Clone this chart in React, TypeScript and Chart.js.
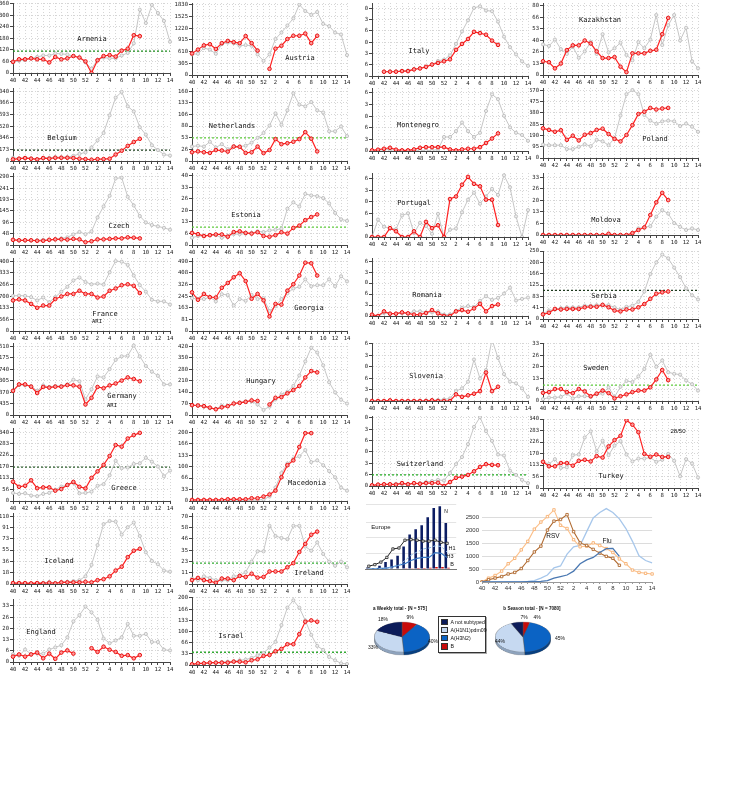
import React, { useEffect, useRef } from 'react';
import { Chart, registerables } from 'chart.js';
Chart.register(...registerables);

// ---------- categories ----------
const weeks = ['40','41','42','43','44','45','46','47','48','49','50','51','52','1','2','3','4','5','6','7','8','9','10','11','12','13','14'];
const europeWeeks = ['48','49','50','51','52','1','2','3','4','5','6','7','8','9','10'];

// ---------- country series (cur = current season to wk 9, prev = previous season) ----------
const armeniaCur = [58,71,71,76,71,71,55,83,71,76,88,80,60,0,66,88,93,85,116,126,196,191];
const armeniaPrev = [55,63,68,76,83,91,91,101,99,96,88,80,55,22,68,80,76,76,91,104,154,328,259,353,311,270,162];
const armeniaThreshold = 113;
const austriaCur = [560,660,770,800,677,828,886,853,828,1012,828,635,null,160,685,760,936,1020,1020,1078,828,1020];
const austriaPrev = [535,552,702,660,552,803,844,828,760,777,760,535,368,535,936,1103,1287,1471,1830,1663,1563,1638,1329,1270,1103,1053,518];
const belgiumCur = [24,34,43,34,24,43,34,48,48,48,43,34,29,19,29,29,34,96,153,225,283,330];
const belgiumPrev = [48,38,48,38,29,48,48,57,57,57,77,105,129,201,307,417,680,944,1030,814,738,503,393,235,163,96,81];
const belgiumThreshold = 163;
const netherlandsCur = [20,22,20,18.5,25,24,21.5,33,32.5,18.5,20,33,18,25,50,38.5,40.7,44,50,66,51,22];
const netherlandsPrev = [33,35,33,44,31,38.5,27,34,33,35,42,53,64,81,109,83,116,155,129,125,135,116,111,68,68,79,57];
const netherlandsThreshold = 53;
const czechCur = [22,20,20,20,18,18,22,24,24,23,26,24,12,16,24,24,26,28,28,32.5,31,28];
const czechPrev = [23,20,20,20,20,22,22,24,28,32.5,45,55.5,46,58,117,164,209,283,286,205,168,123,96,85,79,73,65];
const estoniaCur = [7,6.3,5.2,5.7,6.1,6.1,4.8,7.5,7.9,7,6.6,7.4,5.2,4.8,5.7,7.4,6.6,9.9,11.2,14.4,16.2,17.7];
const estoniaPrev = [4.2,5.2,5.2,5.7,5.7,4.2,5.2,6.3,6.3,6.6,7,7.9,7.5,8.5,8.8,9.4,21,24.7,22.3,29.6,28.7,28.3,27.2,24.1,18.6,14.9,14];
const estoniaThreshold = 10.3;
const franceCur = [1490,1540,1490,1320,1130,1240,1240,1555,1680,1805,1805,1960,1805,1805,1630,1680,1960,2070,2230,2275,2200,1850];
const francePrev = [1710,1725,1710,1650,1490,1630,1400,1650,1915,2150,2465,2605,2385,2275,2310,2260,2860,3405,3375,3220,2700,2230,1915,1520,1445,1445,1290];
const georgiaCur = [271,219,260,237,235,303,337,377,405,350,226,260,215,102,190,185,283,328,389,479,475,389];
const georgiaPrev = [230,224,224,237,208,258,253,179,224,212,253,224,230,140,174,224,264,298,310,362,314,321,321,362,314,384,348];
const germanyCur = [918,1160,1160,1075,833,1063,1039,1075,1075,1135,1123,1075,399,652,1063,1015,1123,1196,1305,1425,1365,1280];
const germanyPrev = [894,1135,1123,1099,918,1123,1063,1099,1099,1160,1340,1280,592,978,1462,1425,1740,2090,2223,2247,2633,2223,1860,1643,1486,1160,1160];
const hungaryCur = [60,58,54,45,35,47,54,70,74,80,89,86,null,64,105,109,132,152,177,229,268,260];
const hungaryPrev = [60,56,51,41,37,56,54,70,76,84,84,64,31,51,95,124,142,177,241,327,410,381,303,200,138,93,70];
const greeceCur = [95,70,75,102,63,67,67,51,59,79,94,70,62,114,146,178,222,276,268,308,325,336];
const greecePrev = [40,35,38,27,24,35,40,56,71,79,90,38,40,46,75,83,127,198,162,165,183,186,213,194,170,122,150];
const greeceThreshold = 167;
const macedoniaCur = [3,3,3,3,3,3,5,5,5,5,8,8,13,19,30,69,104,118,157,197,197];
const macedoniaPrev = [1,1,1,1,1,1,2,2,2,2,2,3,4,13,39,81,109,123,130,148,113,118,104,87,69,39,30];
const icelandCur = [1.5,1.5,1.5,1,1.5,1,2,1,2.6,2.6,2.6,2.6,3.6,2.6,6.2,7.8,12.4,21.8,28,43.5,53.9,57];
const icelandPrev = [1.5,1,1,1,1.5,2,3,2,3,3.6,4.7,6.2,12.4,31,63,97,102,101,80,92,99.5,77.7,51.3,37.3,32,21.8,20];
const irelandCur = [4,6.3,4,3,1.3,5.6,5.6,4,8.3,7.3,10.6,6.6,7.3,12.9,12.9,12.9,17.2,21.5,33,41.3,50.8,54];
const irelandPrev = [5.6,4,7.9,6.3,4,4,4,7.9,8.9,12.2,23.1,33.7,33.7,60,49.5,47.5,46.2,60,60,38.6,34.3,42.9,31,23.1,18.8,23.1,17.2];
const irelandThreshold = 21.5;
const englandCur = [3.2,4.5,3.2,4.5,5.6,2.2,5,1.9,5.6,6.9,5,null,null,8.2,6,9.1,7.3,6,3.7,4.1,2.2,4.1];
const englandPrev = [4.7,3.7,7.4,4.7,5,5,7.4,8.7,10,14.7,24.2,27.9,33,29.6,25.1,14,11.2,12.8,14.7,22.7,15.6,15.6,16.7,11.9,11.9,7.3,6.9];
const israelCur = [2,5,5,7,7,7,7,10,10,8,14,17,27,30,41,48,62,62,92,129,133,129];
const israelPrev = [2,3,4,5,7,9,10,11,14,16,21,29,36,52,69,119,171,193,171,133,90,57,45,24,14,5,3];
const israelThreshold = 38;
const italyCur = [null,null,63,63,63,72,72,97,111,135,169,193,217,246,386,473,546,652,633,609,522,459];
const italyPrev = [null,null,63,68,68,77,82,101,116,135,169,222,242,304,473,657,821,1005,1029,966,956,802,580,425,319,217,150];
const kazakhstanCur = [15.9,14.8,7.7,13.3,28.8,34.3,34.3,39.9,36.5,27.3,19.6,19.6,20.7,9.6,3.3,25.1,25.1,25.1,28,29.2,47.2,66];
const kazakhstanPrev = [35.4,33.6,41,29.9,24.4,32.8,19.9,27.3,38,24.4,47.2,26.2,31,37.3,23.2,17,38,31,41,69.4,34.7,57.6,69.4,39.9,54.6,15.9,7.7];
const montenegroCur = [0.7,1.5,2.6,3.7,1.5,0.7,0.7,1.8,3.7,4.4,4.4,4.4,4.4,1.8,0.7,1.8,2.6,2.6,4.4,9.2,14.3,20.2];
const montenegroPrev = [0.7,0.7,1.5,1.5,0.7,0.7,0,0.7,0.7,0.7,0.7,1.5,16.1,16.1,22.8,32.7,22.8,16.1,20.9,45.9,65,59.5,40.4,27.2,20.9,18.4,11.7];
const polandCur = [250,237,221,234,153,188,148,196,210,237,247,202,161,140,194,277,371,390,422,409,417,422];
const polandPrev = [113,108,108,108,75,75,94,116,100,153,140,108,167,358,538,573,538,363,315,288,309,315,309,269,290,264,221];
const portugalCur = [0,0,0,10.1,6.5,0,0,6.5,0,17.3,10.1,13.4,0,43.3,46.2,59.6,68.6,60.6,57.8,42.6,42.6,13.7];
const portugalPrev = [0,19.9,11.6,10.1,9,24.5,27.1,4.3,16.2,12.6,3.6,26.4,0,8.3,9.7,28.2,42.6,50.5,37.9,46.2,54.9,48,70.4,56.7,23.5,0,30.7];
const moldovaCur = [0,0,0,0,0,0,0,0,0,0,0,0.7,0,0,0,1.1,2.9,4.4,11.6,18.9,24.4,20.2];
const moldovaPrev = [0,0,0,0,0,0,0,0,0,0,0,0,0,0,0,0.7,3.8,4.4,5.1,10.6,14.4,12.4,6.9,4.7,2.9,3.8,2.9];
const romaniaCur = [0.4,0,1.4,0.7,0.7,1.1,0.8,0.4,0.4,0.9,1.8,0.8,0,0,1.4,1.8,1.3,2.3,3.7,1.4,3,3.5];
const romaniaPrev = [0.4,0,0.9,0.7,0.7,0.8,0.8,1.4,1.4,1.1,1.1,1.4,0.4,0.5,1.6,2.5,3,2.7,4.6,6,4.9,5.5,6.8,8.6,4.7,5.2,5.6];
const serbiaCur = [17,23,37,35,37,37,37,43,45,45,52,43,31,28,35,35,43,55,74,93,98,101];
const serbiaPrev = [20,31,35,40,43,43,43,49,49,51,51,51,43,34,45,49,63,101,165,208,237,223,189,154,113,87,72];
const serbiaThreshold = 105;
const sloveniaCur = [0,0,0,1.3,0,0,0,0,0,0,1.3,0,0,0,13.5,8.4,11.6,14.8,20,58,20,29];
const sloveniaPrev = [0,0,0,0,0,0,0,0,0.5,1,1.9,1.9,3.2,5.2,20,25.8,39.3,84.4,45.7,63,125,87.6,54.7,39.3,36,25.8,8.4];
const swedenCur = [4.8,5.2,7,7,5.2,4.6,7,5.6,2.8,4.3,6.1,4.6,1.5,2.8,3.9,5.2,6.1,6.1,8,12.6,18.1,12.2];
const swedenPrev = [1.1,2,2,2.4,4.3,1.5,2.8,2.8,2.4,3.9,4.3,8,2.4,8.3,11.7,11.1,14.4,18.7,27,20,23.7,16.8,15.9,15.4,12,9.8,6.1];
const swedenThreshold = 9.25;
const switzerlandCur = [4,8,10,10,8,17,10,17,13,17,17,19,0,23,48,55,65,86,112,128,124,122];
const switzerlandPrev = [4,4,10,10,13,10,13,13,17,23,29,36,32,76,128,170,246,347,404,322,265,185,179,90,65,36,17];
const switzerlandThreshold = 65;
const turkeyCur = [129,107,107,123,123,110,134,139,131,157,150,205,236,257,334,312,275,168,154,165,153,153];
const turkeyPrev = [129,118,142,99,102,161,165,249,279,181,233,162,209,231,165,131,145,145,150,129,139,168,134,58,142,121,52];

// ---------- Europe summary ----------
const europeCount = [5,2,10,22,30,42,72,110,127,140,165,195,200,147];
const europeB = [0,0,0,0,0,0,1,2,3,3,4,6,6,4];
const europeTotal = [9,14,22,37,64,67,92,94,92,89,89,92,85,82];
const europeH1 = [0,1,2,4,7,12,27,44,54,64,67,74,72,54];
const europeH3 = [0,1,2,3,7,12,17,27,34,37,37,52,50,37];

// ---------- RSV / Flu ----------
const rsvPrev = [0,150,250,420,705,915,1240,1570,2040,2315,2525,2785,2190,2065,1635,1360,1385,1510,1410,1290,1140,890,705,460,370,335,310];
const rsvCur = [0,90,150,210,310,370,520,830,1160,1385,2005,2350,2415,2600,1945,1510,1410,1260,1115,990,915,645];
const fluPrev = [0,5,5,5,10,10,15,20,50,150,270,545,620,1075,1360,1410,1945,2475,2685,2835,2685,2440,2065,1570,1015,830,740];
const fluCur = [0,0,0,0,0,5,5,10,10,25,50,150,210,270,420,705,855,950,1140,1285,1300,990];
const rsvTicks = [0,500,1000,1500,2000,2500];

// ---------- pies (B, A(H3N2), A(H1N1)pdm09, A not subtyped) ----------
const pieLabels = ['B','A(H3N2)','A(H1N1)pdm09','A not subtyped'];
const weeklyPie = [9,40,33,18];
const seasonPie = [4,45,44,7];
const legendItems = ['A not subtyped','A(H1N1)pdm09','A(H3N2)','B'];

// ---------- styles / layout ----------
const MONO = '"DejaVu Sans Mono", monospace';
const SANS = '"Liberation Sans", Arial, sans-serif';
const TICK = 5.6;
const pieColors = ['#c80b0b','#0b63c4','#c6d9f1','#0c1c5a'];
const pieDark = ['#7a0606','#073f80','#8ea3bd','#060e30'];
const legendColors = ['#0c1c5a','#c6d9f1','#0b63c4','#c80b0b'];

const COLS: Record<string, { cl: number; ax: number; pr: number }> = {
  LL: { cl: 0, ax: 13, pr: 170 },
  LR: { cl: 175, ax: 192, pr: 347 },
  RL: { cl: 365, ax: 372, pr: 528 },
  RR: { cl: 530, ax: 543, pr: 698 },
};

type Panel = {
  title: string; cur: (number | null)[]; prev: (number | null)[]; thr?: number; thrColor?: string;
  col: string; plotTop: number; zero: number; yTop: number; yMax: number; tx: number; ty: number; sub?: string; sx?: number; sy?: number;
};

const LIGHT = '#5fcc3c';
const panels: Panel[] = [
  { title: 'Armenia', cur: armeniaCur, prev: armeniaPrev, thr: armeniaThreshold, thrColor: '#1a8a1a', col: 'LL', plotTop: 0, zero: 73, yTop: 360, yMax: 363, tx: 92, ty: 39 },
  { title: 'Austria', cur: austriaCur, prev: austriaPrev, col: 'LR', plotTop: 0, zero: 75, yTop: 1830, yMax: 1872, tx: 300, ty: 58 },
  { title: 'Belgium', cur: belgiumCur, prev: belgiumPrev, thr: belgiumThreshold, thrColor: '#1c3f1c', col: 'LL', plotTop: 85, zero: 161, yTop: 1040, yMax: 1087, tx: 62, ty: 138 },
  { title: 'Netherlands', cur: netherlandsCur, prev: netherlandsPrev, thr: netherlandsThreshold, thrColor: LIGHT, col: 'LR', plotTop: 85, zero: 161, yTop: 160, yMax: 167, tx: 232, ty: 126 },
  { title: 'Czech', cur: czechCur, prev: czechPrev, col: 'LL', plotTop: 170, zero: 245, yTop: 290, yMax: 306, tx: 119, ty: 226 },
  { title: 'Estonia', cur: estoniaCur, prev: estoniaPrev, thr: estoniaThreshold, thrColor: LIGHT, col: 'LR', plotTop: 170, zero: 245, yTop: 40, yMax: 41.7, tx: 246, ty: 215 },
  { title: 'France', cur: franceCur, prev: francePrev, col: 'LL', plotTop: 255, zero: 331, yTop: 3400, yMax: 3555, tx: 105, ty: 314, sub: 'ARI', sx: 97, sy: 322 },
  { title: 'Georgia', cur: georgiaCur, prev: georgiaPrev, col: 'LR', plotTop: 255, zero: 331, yTop: 490, yMax: 512, tx: 309, ty: 308 },
  { title: 'Germany', cur: germanyCur, prev: germanyPrev, col: 'LL', plotTop: 340, zero: 415, yTop: 2610, yMax: 2730, tx: 122, ty: 396, sub: 'ARI', sx: 112, sy: 406 },
  { title: 'Hungary', cur: hungaryCur, prev: hungaryPrev, col: 'LR', plotTop: 340, zero: 415, yTop: 420, yMax: 439, tx: 261, ty: 381 },
  { title: 'Greece', cur: greeceCur, prev: greecePrev, thr: greeceThreshold, thrColor: '#2d5f2d', col: 'LL', plotTop: 425, zero: 501, yTop: 340, yMax: 360, tx: 124, ty: 488 },
  { title: 'Macedonia', cur: macedoniaCur, prev: macedoniaPrev, col: 'LR', plotTop: 425, zero: 501, yTop: 200, yMax: 212, tx: 307, ty: 483 },
  { title: 'Iceland', cur: icelandCur, prev: icelandPrev, col: 'LL', plotTop: 510, zero: 584, yTop: 110, yMax: 115, tx: 59, ty: 561 },
  { title: 'Ireland', cur: irelandCur, prev: irelandPrev, thr: irelandThreshold, thrColor: '#33aa33', col: 'LR', plotTop: 510, zero: 584, yTop: 70, yMax: 73.2, tx: 309, ty: 573 },
  { title: 'England', cur: englandCur, prev: englandPrev, col: 'LL', plotTop: 596, zero: 662, yTop: 40, yMax: 37.5, tx: 41, ty: 632 },
  { title: 'Israel', cur: israelCur, prev: israelPrev, thr: israelThreshold, thrColor: '#33aa33', col: 'LR', plotTop: 594, zero: 665, yTop: 200, yMax: 202.8, tx: 231, ty: 636 },
  { title: 'Italy', cur: italyCur, prev: italyPrev, col: 'RL', plotTop: 0, zero: 76, yTop: 1000, yMax: 1077, tx: 419, ty: 51 },
  { title: 'Kazakhstan', cur: kazakhstanCur, prev: kazakhstanPrev, col: 'RR', plotTop: 0, zero: 75, yTop: 80, yMax: 83.3, tx: 600, ty: 20 },
  { title: 'Montenegro', cur: montenegroCur, prev: montenegroPrev, col: 'RL', plotTop: 85, zero: 151, yTop: 80, yMax: 72.3, tx: 418, ty: 125 },
  { title: 'Poland', cur: polandCur, prev: polandPrev, col: 'RR', plotTop: 85, zero: 158, yTop: 570, yMax: 590, tx: 655, ty: 139 },
  { title: 'Portugal', cur: portugalCur, prev: portugalPrev, col: 'RL', plotTop: 170, zero: 237, yTop: 80, yMax: 73, tx: 414, ty: 203 },
  { title: 'Moldova', cur: moldovaCur, prev: moldovaPrev, col: 'RR', plotTop: 170, zero: 235, yTop: 40, yMax: 35.9, tx: 606, ty: 220 },
  { title: 'Romania', cur: romaniaCur, prev: romaniaPrev, col: 'RL', plotTop: 255, zero: 316, yTop: 20, yMax: 17.6, tx: 427, ty: 295 },
  { title: 'Serbia', cur: serbiaCur, prev: serbiaPrev, thr: serbiaThreshold, thrColor: '#1e3a1e', col: 'RR', plotTop: 248, zero: 319, yTop: 250, yMax: 250, tx: 604, ty: 296 },
  { title: 'Slovenia', cur: sloveniaCur, prev: sloveniaPrev, col: 'RL', plotTop: 340, zero: 401, yTop: 140, yMax: 118, tx: 426, ty: 376 },
  { title: 'Sweden', cur: swedenCur, prev: swedenPrev, thr: swedenThreshold, thrColor: LIGHT, col: 'RR', plotTop: 340, zero: 401, yTop: 40, yMax: 33.9, tx: 596, ty: 368 },
  { title: 'Switzerland', cur: switzerlandCur, prev: switzerlandPrev, thr: switzerlandThreshold, thrColor: '#22aa22', col: 'RL', plotTop: 413, zero: 486, yTop: 400, yMax: 411, tx: 420, ty: 464 },
  { title: 'Turkey', cur: turkeyCur, prev: turkeyPrev, col: 'RR', plotTop: 416, zero: 488, yTop: 340, yMax: 340, tx: 611, ty: 476 },
];

const gridCommon = { color: '#d6d6d6', lineWidth: 1, tickLength: 3, tickColor: '#444', tickBorderDash: [] as number[] };
const borderCommon = { color: '#444', width: 1, dash: [1, 2] };

function LinePanel({ p }: { p: Panel }) {
  const ref = useRef<HTMLCanvasElement>(null);
  const g = COLS[p.col];
  const top = p.plotTop - 2;
  const width = g.pr - g.cl + 5;
  const height = Math.round(p.zero - top + 10);
  useEffect(() => {
    const step = p.yTop / 6;
    const datasets: any[] = [
      { data: p.cur, borderColor: '#ff2222', borderWidth: 1.2, pointRadius: 1.8, pointBackgroundColor: '#ff9a9a', pointBorderColor: '#e81010', pointBorderWidth: 1, spanGaps: false },
      { data: p.prev, borderColor: '#c6c6c6', borderWidth: 1, pointRadius: 1.6, pointBackgroundColor: '#ececec', pointBorderColor: '#b8b8b8', pointBorderWidth: 0.8 },
    ];
    if (p.thr !== undefined) {
      datasets.push({ data: weeks.map(() => p.thr), borderColor: p.thrColor, borderWidth: 1.3, borderDash: [2, 2], pointRadius: 0 });
    }
    const chart = new Chart(ref.current!, {
      type: 'line',
      data: { labels: weeks, datasets },
      options: {
        responsive: false, animation: false,
        plugins: { legend: { display: false }, tooltip: { enabled: false } },
        layout: { padding: 0 },
        scales: {
          x: {
            type: 'category', offset: false,
            grid: gridCommon as any, border: borderCommon as any,
            ticks: { autoSkip: false, maxRotation: 0, padding: 1, color: '#222', font: { family: MONO, size: TICK },
              callback: (_v: any, i: number) => (i % 2 === 0 ? weeks[i] : '') },
            afterFit: (s: any) => { s.height = 10; },
          },
          y: {
            min: 0, max: p.yMax,
            grid: gridCommon as any, border: borderCommon as any,
            afterBuildTicks: (s: any) => {
              const t: any[] = [];
              for (let k = 0; k * step <= p.yMax + 1e-6; k++) t.push({ value: k * step });
              s.ticks = t;
            },
            ticks: { padding: 1, color: '#222', font: { family: MONO, size: TICK, lineHeight: 0.2 },
              callback: (v: any) => String(Math.floor(Number(v) + 1e-6)) },
            afterFit: (s: any) => { s.width = g.ax - g.cl; },
          },
        },
      } as any,
    });
    return () => chart.destroy();
  }, [p]);
  return <canvas ref={ref} width={width} height={height} style={{ position: 'absolute', left: g.cl, top }} />;
}

function EuropeChart() {
  const ref = useRef<HTMLCanvasElement>(null);
  useEffect(() => {
    const chart = new Chart(ref.current!, {
      type: 'bar',
      data: {
        labels: europeWeeks,
        datasets: [
          { type: 'line', data: europeTotal, borderColor: '#222', borderWidth: 1, pointStyle: 'rect', pointRadius: 1.6, pointBackgroundColor: '#fff', pointBorderColor: '#222', pointBorderWidth: 0.8, order: 0 },
          { type: 'line', data: europeH1, borderColor: '#8ab8e6', borderWidth: 1, borderDash: [3, 2], pointRadius: 0, order: 0 },
          { type: 'line', data: europeH3, borderColor: '#3a78c2', borderWidth: 1.2, pointRadius: 0, order: 0 },
          { type: 'bar', data: europeCount, backgroundColor: '#0c1d63', order: 1, barPercentage: 0.95, categoryPercentage: 0.9 },
          { type: 'bar', data: europeB, backgroundColor: '#d41111', order: 1, barPercentage: 0.95, categoryPercentage: 0.9 },
        ] as any,
      },
      options: {
        responsive: false, animation: false,
        plugins: { legend: { display: false }, tooltip: { enabled: false } },
        scales: {
          x: { grid: { display: false }, border: { color: '#777' },
            ticks: { autoSkip: false, maxRotation: 0, padding: 1, color: '#333', font: { family: SANS, size: 6 },
              callback: (_v: any, i: number) => (i % 2 === 0 ? europeWeeks[i] : '') },
            afterFit: (s: any) => { s.height = 10; } },
          y: { min: 0, max: 205, ticks: { display: false, stepSize: 50 }, grid: { color: '#e4e4e4', drawTicks: false }, border: { display: false },
            afterFit: (s: any) => { s.width = 0; } },
        },
      } as any,
    });
    return () => chart.destroy();
  }, []);
  return <canvas ref={ref} width={100} height={79} style={{ position: 'absolute', left: 361, top: 500 }} />;
}

function RsvFluChart() {
  const ref = useRef<HTMLCanvasElement>(null);
  useEffect(() => {
    const sq = { pointStyle: 'rect', pointRadius: 1.7, pointBackgroundColor: '#fff', pointBorderWidth: 0.9 };
    const chart = new Chart(ref.current!, {
      type: 'line',
      data: {
        labels: weeks,
        datasets: [
          { data: fluCur, borderColor: '#4a78b2', borderWidth: 1.3, pointRadius: 0 },
          { data: rsvCur, borderColor: '#b06a30', borderWidth: 1.1, pointBorderColor: '#b06a30', ...sq },
          { data: rsvPrev, borderColor: '#fcc08a', borderWidth: 1.1, pointBorderColor: '#f7b070', ...sq },
          { data: fluPrev, borderColor: '#a7c7eb', borderWidth: 1.3, pointRadius: 0 },
        ] as any,
      },
      options: {
        responsive: false, animation: false,
        plugins: { legend: { display: false }, tooltip: { enabled: false } },
        scales: {
          x: { offset: false, grid: { drawOnChartArea: false, tickLength: 2, color: '#999' }, border: { color: '#999' },
            ticks: { autoSkip: false, maxRotation: 0, padding: 1, color: '#333', font: { family: SANS, size: 6 },
              callback: (_v: any, i: number) => (i % 2 === 0 ? weeks[i] : '') },
            afterFit: (s: any) => { s.height = 10; } },
          y: { min: 0, max: 2900,
            afterBuildTicks: (s: any) => { s.ticks = rsvTicks.map((v) => ({ value: v })); },
            grid: { color: '#dcdcdc', drawTicks: false }, border: { display: false },
            ticks: { padding: 3, color: '#333', font: { family: SANS, size: 6, lineHeight: 0.2 }, callback: (v: any) => String(v) },
            afterFit: (s: any) => { s.width = 20; } },
        },
      } as any,
    });
    return () => chart.destroy();
  }, []);
  return <canvas ref={ref} width={195} height={90} style={{ position: 'absolute', left: 462, top: 502 }} />;
}

function PieChart({ values, colors, left, top }: { values: number[]; colors: string[]; left: number; top: number }) {
  const ref = useRef<HTMLCanvasElement>(null);
  useEffect(() => {
    const chart = new Chart(ref.current!, {
      type: 'pie',
      data: { labels: pieLabels, datasets: [{ data: values, backgroundColor: colors, borderWidth: 0.4, borderColor: '#555' }] },
      options: { responsive: false, animation: false, plugins: { legend: { display: false }, tooltip: { enabled: false } }, layout: { padding: 0 } } as any,
    });
    return () => chart.destroy();
  }, [values, colors]);
  return (
    <div style={{ position: 'absolute', left, top, width: 56, height: 56, transform: 'scaleY(0.54)', transformOrigin: 'center center' }}>
      <canvas ref={ref} width={56} height={56} />
    </div>
  );
}

const txt = (s: string, x: number, y: number, size: number, family = MONO, extra: any = {}) => (
  <div key={s + x + y} style={{ position: 'absolute', left: x, top: y, transform: 'translate(-50%,-50%)', whiteSpace: 'nowrap', fontFamily: family, fontSize: size, color: '#111', lineHeight: 1, ...extra }}>{s}</div>
);

export default function App() {
  const wPos = [[410, 617], [433, 641], [373, 647], [383, 619]];
  const sPos = [[537, 617], [560, 638], [500, 641], [524, 617]];
  return (
    <div style={{ position: 'absolute', left: 0, top: 0, width: 730, height: 800, background: '#fff', overflow: 'hidden' }}>
      {panels.map((p) => <LinePanel key={p.title} p={p} />)}
      {panels.map((p) => txt(p.title, p.tx, p.ty, 7))}
      {panels.filter((p) => p.sub).map((p) => txt(p.sub!, p.sx!, p.sy!, 5.5))}
      {txt('28/50', 678, 431, 6, SANS)}

      <EuropeChart />
      {txt('Europe', 381, 527, 6, SANS)}
      {txt('N', 446, 511, 5, SANS)}
      {txt('H1', 452, 549, 5.5, SANS)}
      {txt('H3', 450, 557, 5.5, SANS)}
      {txt('B', 452, 565, 5.5, SANS)}

      <RsvFluChart />
      {txt('RSV', 553, 536, 6.5, SANS)}
      {txt('Flu', 607, 541, 6.5, SANS)}

      {txt('a  Weekly total - [N = 575]', 400, 609, 4.6, SANS, { fontWeight: 'bold' })}
      {txt('b  Season total - [N = 7080]', 532, 609, 4.6, SANS, { fontWeight: 'bold' })}
      <PieChart values={weeklyPie} colors={pieDark} left={374} top={612} />
      <PieChart values={weeklyPie} colors={pieColors} left={374} top={609} />
      <PieChart values={seasonPie} colors={pieDark} left={495} top={612} />
      <PieChart values={seasonPie} colors={pieColors} left={495} top={609} />
      {weeklyPie.map((v, i) => txt(v + '%', wPos[i][0], wPos[i][1], 5, SANS))}
      {seasonPie.map((v, i) => txt(v + '%', sPos[i][0], sPos[i][1], 5, SANS))}

      <div style={{ position: 'absolute', left: 438, top: 616, width: 46, height: 35, border: '1px solid #333', background: '#fff', boxShadow: '1px 1px 0 #aaa' }}>
        {legendItems.map((s, i) => (
          <div key={s} style={{ position: 'absolute', left: 2, top: 1.5 + i * 8.2, display: 'flex', alignItems: 'center', fontFamily: SANS, fontSize: 5.2, color: '#111', whiteSpace: 'nowrap' }}>
            <span style={{ display: 'inline-block', width: 4.5, height: 4.5, background: legendColors[i], border: '0.5px solid #333', marginRight: 3 }} />
            {s}
          </div>
        ))}
      </div>
    </div>
  );
}
